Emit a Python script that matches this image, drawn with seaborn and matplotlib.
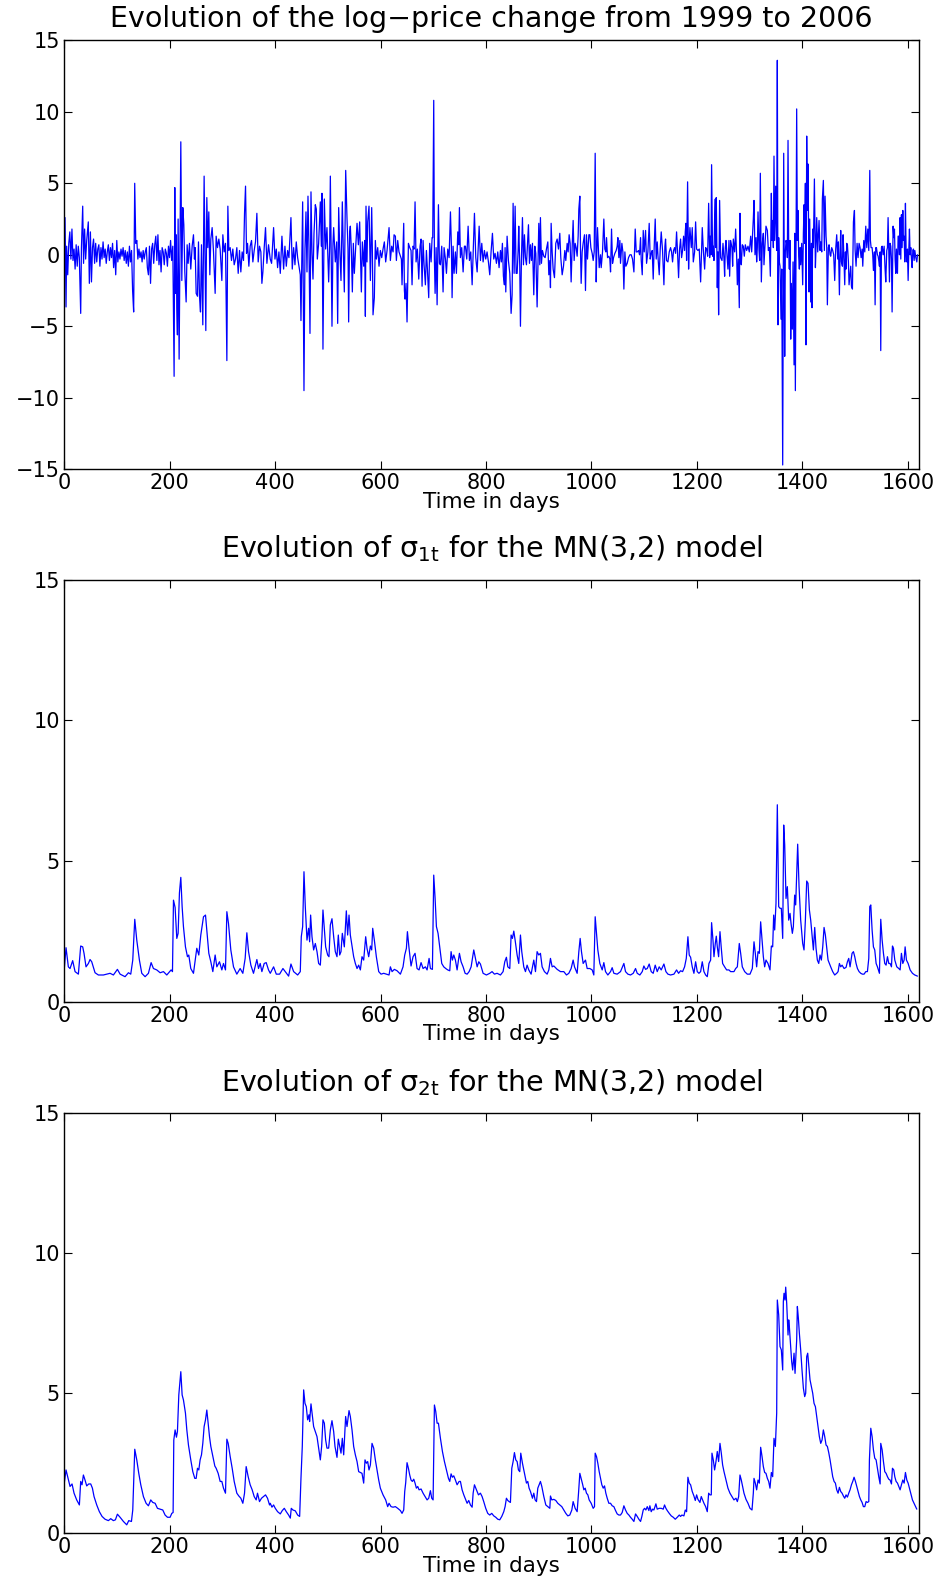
import matplotlib
matplotlib.use("Agg")
import matplotlib.pyplot as plt
import seaborn as sns
import pandas as pd

sns.set_style("ticks")
plt.rcParams['font.family'] = ['DejaVu Sans']
plt.rcParams['mathtext.default'] = 'regular'
plt.rcParams['text.color'] = 'black'
plt.rcParams['axes.labelcolor'] = 'black'
plt.rcParams['xtick.color'] = 'black'
plt.rcParams['ytick.color'] = 'black'

# ---- data: (day, value) ----
# daily log-price change
logret_pts = [
    (0, 0.5), (1.9, 2.6), (3.8, -3.65), (5, 0.6), (7, -1.4), (9, 0.8), (11, 1.6), (13, -0.3),
    (15, 1.8), (17, -0.4), (19, 0.4), (21, -1.0), (23, 0.7), (25, -0.8), (27, 0.6), (29, -0.2),
    (31.6, -4.1), (33, 0.5), (35.4, 3.4), (37, -0.6), (39, 1.8), (41, -0.3), (43, 1.0), (46, 2.3),
    (48, -2.0), (50, 1.6), (52, -1.9), (54, 0.5), (56, 1.1), (58, -0.6), (60, 0.8), (62, -0.5),
    (64, 0.4), (66, 0.7), (68, -0.8), (70, 0.5), (72, -0.3), (74, 0.9), (76, -0.2), (78, 0.4),
    (80, -0.6), (82, 0.2), (84, 0.7), (86, -0.4), (88, 0.5), (90, -0.2), (92, 0.8), (94, -0.9),
    (96, 0.3), (98, -1.4), (100, 1.0), (102, -0.5), (104, 0.2), (106, -0.3), (108, 0.4), (110, -0.1),
    (112, 0.5), (114, -0.4), (116, 0.3), (118, -0.6), (120, 0.2), (122, -0.8), (124, 0.6), (126, -0.5),
    (128, 0.3), (130, -2.5), (132, -4.0), (134, 5.0), (136, 0.8), (138, 1.0), (140, -0.3), (142, 0.4),
    (144, -0.2), (146, 0.2), (148, -0.5), (150, 0.3), (152, -0.3), (154, 0.2), (156, 0.5), (158, -0.9),
    (160, -1.4), (162, 0.6), (164, -2.0), (166, 0.4), (168, 0.8), (170, -0.6), (172, 0.7), (174, 1.3),
    (176, -0.4), (178, 1.4), (180, -0.7), (182, 0.3), (184, -1.2), (186, 0.5), (188, 0.2), (190, -0.7),
    (192, 0.4), (194, 0.1), (196, -0.8), (198, 0.6), (200, -0.2), (202, 1.0), (204, -0.4), (206.2, 0.6),
    (208.7, -8.5), (210, 4.7), (211.2, -2.7), (212.5, 1.4), (213.8, -3.7), (215, -5.6), (216.3, 2.5),
    (218.2, -7.3), (220.1, 1.8), (221.4, 7.9), (223.3, -1.8), (225.2, 3.3), (227.1, 2.1), (229, -1.2),
    (231.5, -3.3), (233.4, 0.7), (235.3, -0.6), (237.8, 0.8), (240.3, -1.0), (242.9, 0.6), (245.4, 1.4),
    (247.3, -0.3), (248.6, 0.5), (250.5, -2.7), (253, -2.9), (254.9, 0.9), (256.8, -2.9), (258.7, -4.0),
    (260.6, 0.7), (263.1, -4.9), (265.6, 5.5), (266.9, 1.0), (268.8, -5.3), (270.7, 4.0), (272.6, 0.5),
    (274.5, 3.0), (276.4, -1.4), (278.3, 1.1), (280.8, 1.9), (283.4, 0.2), (286.5, -2.7), (288.4, 1.3),
    (290.9, 0.5), (293.5, 1.1), (296, 0.4), (299.2, -1.8), (301.1, 1.4), (303.6, 0.2), (306.1, 0.8),
    (308.7, -7.4), (310.6, 3.4), (312.5, 0.3), (315, 0.5), (317.5, -0.4), (320, 0.4), (322.6, -0.7),
    (325.1, -0.3), (327.6, 0.5), (330.2, -1.3), (332.7, 0.3), (335.2, -1.2), (337.7, 0.2), (340.3, -0.4),
    (342.2, 2.9), (344.1, 4.8), (346, 0.1), (347.9, 0.8), (350.4, -0.8), (352.9, 0.6), (355.5, 1.0),
    (358, -0.5), (360.5, 0.3), (363, 0.9), (365.6, 2.9), (368.1, -0.5), (370.6, 0.6), (373.2, 0.2),
    (375.1, -2.0), (377, -1.2), (379.5, 0.5), (382, 1.9), (384.6, -0.6), (387.7, 0.7), (390.9, -0.3),
    (393.5, -0.6), (397.3, 1.9), (399.9, -0.3), (402.4, 0.4), (404.9, -0.9), (407.4, 0.2), (410, -1.3),
    (413.1, 1.3), (416.3, -1.0), (418.8, 0.6), (421.4, -0.8), (423.9, 0.3), (426.4, -0.2), (430.2, 2.6),
    (432.7, -1.0), (435.3, 0.5), (437.8, -0.7), (440.3, 0.9), (442.9, -0.2), (445.4, -0.8), (447.9, -1.4),
    (449.2, -4.6), (450.5, -1.0), (452.4, 3.7), (453.6, -2.5), (454.9, -9.5), (456.8, 0.4), (458.7, 3.0),
    (460.6, -1.2), (462.5, 4.1), (464.4, 0.5), (466.3, -5.5), (468.2, 4.4), (470.1, 0.2), (472, -1.7),
    (473.9, 1.5), (476.4, 3.5), (478.3, 3.2), (480.2, -0.3), (482.7, 0.8), (485.9, 3.7), (487.8, 0.6),
    (489, 4.3), (490.9, -6.6), (493.5, 3.9), (496, 0.4), (498.5, 1.9), (501.7, -1.9), (503.6, 0.6),
    (504.9, 5.5), (508, -5.0), (509.9, 0.8), (511.2, 1.9), (514.3, -0.5), (516.9, 0.9), (518.8, -4.8),
    (520.7, 3.3), (522.6, 0.5), (525.1, -1.8), (527.6, 3.7), (529.5, 0.2), (531.4, -2.6), (534, 5.9),
    (536.5, 2.5), (538.4, 0.4), (539.6, -4.7), (541.5, 1.6), (542.8, 2.0), (544.7, 0.3), (546.6, -2.6),
    (548.5, 0.8), (550.4, -1.3), (552.9, 0.5), (555.5, 2.2), (558, 0.7), (560.5, 2.3), (563.7, -2.6),
    (565.6, 0.9), (568.1, -0.8), (570, 1.0), (571.3, -4.3), (572.5, 3.4), (574.4, -0.5), (575.7, 2.3),
    (578.2, 3.4), (580.8, -1.8), (583.3, 3.3), (584.5, 0.5), (585.8, -4.2), (588.3, -3.0), (590.2, 1.0),
    (592.1, -0.3), (594.7, 0.5), (597.2, -0.8), (599.7, 0.3), (602.3, -0.2), (604.8, 0.4), (607.3, 0.9),
    (609.8, -0.5), (612.4, 0.3), (616.2, 1.9), (618.7, -0.4), (621.2, 0.6), (623.8, 0.2), (625.7, 1.4),
    (628.2, 1.3), (630.1, -0.4), (632.6, 1.0), (635.1, 0.2), (637.7, -0.1), (639.6, -0.3), (640.8, -2.1),
    (642.7, 0.5), (644, 2.2), (645.3, -2.5), (646.5, -3.1), (648.4, -2.0), (650.3, -4.7), (652.9, 0.8),
    (655.4, 0.5), (657.9, 0.3), (659.8, -2.1), (661.7, 0.6), (663.6, 0.4), (665.5, 3.7), (667.4, -0.5),
    (669.9, 0.4), (672.5, -1.7), (675, 0.6), (676.9, 1.1), (678.8, -2.2), (680.7, 1.0), (682.6, -0.7),
    (685.1, -2.1), (687, 0.3), (688.9, -1.0), (691.4, -3.0), (693.3, 0.8), (695.9, -0.5), (697.8, 1.2),
    (699, 1.2), (700.9, 10.8), (702.2, -0.3), (703.5, -2.7), (705.4, 0.5), (707.3, -3.5), (709.8, 3.5),
    (711.7, -0.6), (713.6, -0.7), (716.1, 0.6), (718.6, -2.6), (720.5, 0.5), (723.1, -0.3), (725, -1.3),
    (727.5, 0.4), (730, -0.2), (732.6, 3.0), (734.4, 0.6), (735.7, -3.0), (737.6, 0.6), (739.5, -1.3),
    (742, 0.2), (743.9, -1.3), (746.5, 1.6), (748.4, 0.7), (749.6, 3.3), (751.5, -0.2), (754, 0.5),
    (756.6, -1.2), (759.1, 0.6), (761, 0.6), (763.5, -0.3), (766.1, 2.0), (768.6, -0.4), (771.1, 0.2),
    (773.7, -2.1), (776.2, 0.8), (778.1, 2.9), (780.6, -0.2), (783.2, -1.2), (785, 0.3), (787, 2.0),
    (789.5, -0.4), (792, 0.8), (794.5, -0.5), (797, 0.3), (799.5, -0.3), (802, 0.2), (804.6, -0.5),
    (807.1, -1.4), (809.6, 0.2), (812.2, 1.5), (814.7, -0.3), (817.2, 0.1), (819.8, -0.6), (822.3, 0.2),
    (824.8, -0.9), (827.4, 0.3), (829.2, -0.5), (831.1, 0.8), (833, -1.5), (834.9, -2.1), (836.2, 0.5),
    (837.5, -2.6), (840, 1.3), (842.5, -0.4), (845.1, -1.3), (847.6, -4.1), (849.5, -2.8), (851.4, 3.6),
    (853.3, -1.3), (855.2, 3.4), (857.1, -1.3), (859, -1.3), (860.9, 0.3), (862.1, 2.0), (864, -0.8),
    (865.3, -5.0), (867.2, -0.3), (869.1, 2.6), (871, -0.7), (872.9, 1.4), (874.8, -0.2), (876.7, -0.7),
    (878.6, 0.7), (880.5, 2.1), (882.4, -0.6), (884.3, 0.7), (886.2, -0.4), (888.1, 0.8), (890.6, -2.8),
    (892.5, 0.6), (894.4, 0.1), (896.9, -3.65), (898.8, -0.3), (900.1, 2.2), (902, -0.7), (903.2, 2.6),
    (905.1, -0.6), (907, 0.3), (909.6, -0.1), (912.1, -0.2), (914.6, 0.4), (917.2, 0.9), (919.1, -1.4),
    (921, -0.4), (922.2, -2.3), (923.5, 2.2), (925.4, 0.2), (927.3, -1.0), (929.8, -1.6), (932.3, 0.8),
    (934.9, 1.1), (937.4, 0.4), (939.9, 1.5), (941.8, -0.2), (944.4, -1.4), (946.9, -0.8), (949.4, 0.3),
    (951.3, -0.4), (953.9, 0.8), (955.7, 0.2), (957.6, 1.4), (959.5, 0.8), (961.4, -1.9), (963.3, 0.5),
    (965.2, 2.4), (967.1, -0.4), (969, 0.8), (970.9, 0.5), (972.8, -0.1), (974.7, 1.3), (976, 3.2),
    (977.9, 4.1), (979.2, 0.3), (980.4, -2.0), (982.3, 0.2), (984.2, 0.8), (986.7, 1.4), (988.6, -2.5),
    (990.5, 1.4), (992.4, -0.3), (995, 1.4), (996.9, 1.4), (998.8, 0.5), (1001.3, 0.1), (1003.2, -0.4),
    (1005.1, 0.2), (1007, 7.1), (1008.9, -1.9), (1010.1, 0.2), (1011.4, 1.9), (1013.3, 0.3), (1014.6, -0.9),
    (1017.1, 0.0), (1018.4, -0.9), (1020.9, 0.2), (1023.4, 2.5), (1025.3, 0.4), (1027.2, 0.2), (1028.5, 1.2),
    (1030.4, -0.2), (1032.9, -0.1), (1034.8, -0.3), (1036.1, -1.2), (1038, 1.8), (1039.9, -0.6), (1041.8, -0.2),
    (1044.3, 0.1), (1046.8, 0.3), (1048.7, 0.6), (1050, 1.2), (1051.9, -0.2), (1053.8, 1.0), (1055, -0.6),
    (1057.6, 0.8), (1059.5, 0.2), (1061.4, -2.4), (1063.3, 0.2), (1065.2, -0.8), (1067.7, -0.6), (1070.2, -0.2),
    (1072.8, 0.0), (1075.3, 0.0), (1077.8, -0.3), (1080.4, -1.2), (1082.9, 1.8), (1084.8, 0.2), (1086.7, 0.2),
    (1089.2, 0.3), (1091.1, 0.0), (1093, 1.2), (1094.3, -0.4), (1096.2, -1.4), (1098.1, 1.7), (1100, 0.2),
    (1102.5, 1.7), (1104.4, -0.6), (1106.9, 0.2), (1109.4, 2.2), (1111.3, -0.3), (1113.2, 0.1), (1115.1, 0.3),
    (1117, -1.7), (1118.9, 0.6), (1120.8, 2.5), (1122.7, -0.3), (1124.6, 0.9), (1126.5, -0.4), (1128.4, -1.4),
    (1130.3, 0.4), (1132.2, 1.6), (1134.7, 0.3), (1137.3, -2.1), (1139.2, 0.6), (1140.4, 1.1), (1142.3, -0.4),
    (1144.9, -0.5), (1147.4, 0.2), (1149.9, 0.5), (1151.8, 0.2), (1153.7, -0.5), (1155.6, 0.3), (1157.5, 0.5),
    (1159.4, 0.1), (1161.3, 1.6), (1163.2, 0.1), (1165.1, -1.6), (1167, 0.4), (1168.9, 1.1), (1170.8, -0.2),
    (1172.7, 0.3), (1174.6, 1.3), (1176.5, 0.3), (1177.8, 1.6), (1179, 2.2), (1180.3, -0.4), (1182.2, 5.1),
    (1184.1, -1.0), (1185.3, 0.8), (1186.6, 1.9), (1189.2, 0.5), (1191, 1.9), (1193, -0.5), (1195.5, 0.2),
    (1197.4, 2.3), (1199.3, 0.4), (1201.8, 0.3), (1204.3, 0.4), (1206.9, -1.9), (1208.8, 0.5), (1210, 1.9),
    (1211.9, 0.4), (1214.5, -1.0), (1216.4, 0.5), (1218.3, 0.4), (1220.2, -0.1), (1222.1, 3.6), (1224, -0.2),
    (1225.2, 1.3), (1226.5, 0.0), (1227.7, 6.3), (1229.6, -0.1), (1230.9, 0.6), (1232.2, -0.4), (1233.4, 2.5),
    (1234.7, 3.9), (1236, 0.5), (1236.6, 4.0), (1237.9, -0.4), (1238.5, -2.3), (1239.8, 0.2), (1241, -4.2),
    (1242.9, 3.8), (1244.8, -0.2), (1247.4, -0.4), (1249.3, 0.8), (1251.2, -0.3), (1252.4, -1.5), (1253.7, 0.5),
    (1255, 1.0), (1257.5, -0.3), (1258.7, -1.0), (1260.6, 1.0), (1261.9, -1.5), (1263.8, 1.0), (1266.3, 0.5),
    (1267.6, -0.8), (1268.9, 1.1), (1271.4, 0.2), (1273.3, 1.8), (1275.2, -0.1), (1276.5, -2.1), (1278.3, -0.3),
    (1280.2, -3.7), (1281.5, 2.9), (1282.8, -0.3), (1284, -0.7), (1285.9, 0.7), (1287.8, 0.6), (1289.7, -0.1),
    (1291.6, 0.7), (1294.2, 0.3), (1296.7, 0.6), (1299.2, 0.2), (1301.8, 1.3), (1303.7, 0.2), (1305.5, 1.5),
    (1306.8, 2.5), (1308.1, 3.8), (1310, 0.0), (1311.9, 1.2), (1313.1, -0.5), (1314.4, 0.5), (1315.7, 3.0),
    (1317.6, 0.3), (1318.8, -0.4), (1320.1, 5.7), (1322, -1.9), (1323.9, 0.8), (1325.8, 1.5), (1327, -0.7),
    (1328.3, 0.2), (1330.8, 2.0), (1333.4, 1.7), (1335.3, 0.3), (1337.2, 0.5), (1339.1, -1.5), (1341, 4.3),
    (1342.2, 1.0), (1343.5, 2.4), (1344.8, 0.5), (1346, 6.9), (1347.3, 1.0), (1349.2, 4.8), (1351.1, 0.3),
    (1352.3, 13.6), (1353.6, -4.9), (1354.9, 1.2), (1356.1, -0.5), (1357.4, -0.8), (1359.3, -4.5), (1360.6, -1.0),
    (1362.5, -14.7), (1364.4, 7.1), (1366.3, -7.1), (1367.5, 0.2), (1368.8, 1.0), (1370.1, 0.8), (1371.3, -0.2),
    (1372.6, 8.0), (1373.9, 0.3), (1375.1, -1.0), (1376.4, 1.0), (1377.7, -5.9), (1378.9, -2.0), (1380.8, -5.2),
    (1382.1, -0.5), (1384, -7.7), (1385.2, 1.5), (1386.5, -9.5), (1387.8, 0.0), (1389, 10.2), (1390.3, 1.0),
    (1391.5, 3.1), (1392.8, -0.1), (1394.1, -1.0), (1395.4, 0.5), (1396.6, -0.7), (1398.5, 0.8), (1400.4, -2.1),
    (1401.7, 1.5), (1403, 3.5), (1404.2, 0.8), (1405.5, 5.0), (1406.7, -6.3), (1408, 8.3), (1409.3, 3.1),
    (1410.5, 6.35), (1411.8, 1.0), (1412.4, -2.6), (1413.7, 2.5), (1415.6, -3.3), (1416.9, 0.8), (1418.1, -3.7),
    (1419.4, 1.8), (1420.7, 0.5), (1422.6, 5.3), (1424.5, -0.9), (1425.7, 0.6), (1427, 2.6), (1428.9, 0.2),
    (1431.4, 2.4), (1433.3, 0.3), (1434.6, 0.9), (1436.5, 0.2), (1437.7, 3.9), (1439.6, 5.2), (1441.5, 0.3),
    (1442.8, 4.1), (1444.7, 1.3), (1446, 0.5), (1447.2, -3.5), (1449.1, 0.5), (1450.4, 0.7), (1452.3, 0.0),
    (1453.5, -0.1), (1455.4, 0.5), (1457.3, 0.3), (1459.2, 0.0), (1461.1, -1.8), (1463, 0.4), (1464.9, 1.4),
    (1466.8, -0.3), (1468.1, 0.9), (1470, -2.8), (1471.3, 0.0), (1472.5, 1.7), (1473.8, -0.5), (1475.7, -0.8),
    (1477, 1.4), (1478.2, 0.2), (1480.1, -2.1), (1481.4, 0.2), (1482.6, -1.0), (1483.9, 0.8), (1485.2, 0.7),
    (1487.1, -0.5), (1488.3, -2.1), (1490.2, -1.3), (1491.5, -0.8), (1492.8, -2.2), (1494.7, -2.4), (1496.6, 2.3),
    (1498.5, 3.1), (1499.7, 0.4), (1501.6, -0.8), (1503.5, 0.8), (1505.4, -0.2), (1507.3, 0.8), (1509.2, 0.5),
    (1511.1, -0.2), (1513, 0.4), (1514.3, -0.8), (1516.2, 1.0), (1518.1, 0.2), (1520, 2.0), (1521.9, 0.5),
    (1523.8, 1.8), (1525.7, 0.3), (1527.6, 5.9), (1528.8, 1.0), (1530.1, 0.5), (1532, 0.5), (1533.2, 0.0),
    (1534.5, -1.1), (1536.4, 0.2), (1537.7, -3.5), (1538.9, 0.5), (1540.2, 0.5), (1542.1, 0.0), (1543.4, -0.1),
    (1544.6, -0.4), (1545.9, -0.8), (1547.2, 0.2), (1548.4, -6.7), (1549.7, 0.5), (1551, 0.6), (1552.9, 0.0),
    (1554.8, 0.6), (1556.6, -1.0), (1557.9, -1.9), (1559.8, 0.3), (1561.1, 0.5), (1562.3, 2.6), (1563.6, 0.2),
    (1564.9, -1.9), (1566.1, 0.8), (1567.4, 0.6), (1568.7, -0.3), (1569.9, -4.0), (1571.8, 2.0), (1573.1, 1.2),
    (1574.4, 1.8), (1575.6, -0.3), (1576.9, -1.3), (1578.2, 0.4), (1580.1, -1.3), (1581.3, 1.3), (1582.6, 1.3),
    (1583.9, 0.0), (1585.1, 2.6), (1586.4, -0.3), (1587.6, 2.8), (1588.9, 0.5), (1590.2, 3.1), (1591.4, 1.0),
    (1592.7, 1.3), (1594, -0.5), (1595.2, 3.6), (1596.5, 0.2), (1597.8, -0.5), (1599, 0.4), (1600.3, -1.8),
    (1601.6, 0.3), (1602.8, 1.8), (1604.1, 0.0), (1605.4, 0.5), (1606.6, -0.3), (1607.9, -0.9), (1609.2, 0.3),
    (1610.4, 0.4), (1611.7, -0.4), (1613, 0.3), (1614.9, -0.2), (1616.8, -0.5), (1618, 0.0),
]

# sigma_1t of the MN(3,2) model
sigma1_pts = [
    (0, 1.07), (3.8, 1.92), (8.2, 1.24), (11.4, 1.18), (16.4, 1.46), (20.9, 1.07), (27.2, 0.98), (31.6, 1.98),
    (35.4, 1.95), (37.9, 1.72), (41.7, 1.24), (46.2, 1.36), (49.3, 1.50), (52.5, 1.42), (58.8, 1.03), (65.1, 0.95),
    (74.6, 0.95), (87.3, 1.01), (93.6, 0.95), (101.2, 1.15), (106.3, 0.98), (115.7, 0.89), (122.1, 1.03),
    (126.5, 0.98), (130.3, 1.48), (134.1, 2.93), (137.9, 2.19), (142.9, 1.48), (147.4, 1.01), (153.7, 0.89),
    (160, 1.01), (165.1, 1.39), (169.5, 1.18), (175.8, 1.13), (182.2, 1.03), (188.5, 1.07), (194.8, 0.95),
    (203, 1.13), (205.6, 1.07), (207.5, 3.61), (210.6, 3.35), (213.8, 2.25), (216.3, 2.43), (218.8, 3.87),
    (221.4, 4.42), (223.9, 3.38), (226.4, 2.67), (230.2, 1.95), (234, 1.60), (236.5, 1.66), (240.3, 1.18),
    (245.4, 1.01), (251.7, 1.90), (255.5, 1.66), (259.3, 2.37), (264.4, 3.02), (268.2, 3.08), (270.7, 2.55),
    (274.5, 1.72), (278.3, 1.42), (282.1, 1.07), (286.5, 1.66), (289.7, 1.24), (294.7, 1.42), (299.2, 1.13),
    (302.3, 1.36), (306.1, 1.13), (308.7, 3.20), (311.8, 2.78), (316.2, 1.84), (321.3, 1.24), (327.6, 0.98),
    (333.9, 1.18), (339, 1.01), (343.4, 1.54), (346.6, 2.45), (349.8, 1.78), (354.2, 1.30), (359.2, 1.01),
    (365.6, 1.50), (368.7, 1.18), (371.9, 1.36), (375.1, 1.07), (379.5, 1.36), (383.3, 1.39), (387.7, 1.13),
    (391, 1.01), (397.3, 1.24), (402.4, 0.98), (408.7, 0.98), (415, 1.18), (419.5, 1.07), (425.8, 0.91),
    (430.2, 1.34), (435.3, 1.07), (442.9, 0.95), (447.9, 1.07), (449.8, 2.31), (452.4, 2.67), (454.9, 4.62),
    (457.4, 3.38), (460.6, 2.19), (463.7, 2.61), (465.6, 2.13), (467.5, 3.08), (470.1, 2.31), (473.2, 1.84),
    (476.4, 2.07), (479.6, 1.78), (482.7, 1.36), (485.9, 1.30), (489, 2.31), (490.9, 3.26), (493.5, 2.61),
    (496, 1.95), (499.8, 1.66), (502.3, 1.60), (504.9, 2.73), (508, 2.95), (511.2, 2.31), (514.3, 1.78),
    (517.5, 1.60), (520, 2.37), (522.6, 1.66), (525.1, 1.78), (527.6, 2.43), (531.4, 1.95), (535.2, 3.23),
    (537.7, 2.37), (540.3, 3.08), (542.8, 2.37), (546, 1.98), (549.1, 1.60), (552.3, 1.36), (555.5, 1.18),
    (558.6, 1.30), (561.8, 1.13), (564.9, 1.60), (568.1, 1.48), (571.9, 2.31), (574.4, 1.90), (577.6, 1.60),
    (580.8, 1.98), (583.3, 1.84), (585.2, 2.61), (588.3, 2.19), (592.1, 1.60), (596.6, 1.07), (601, 0.98),
    (606.1, 1.01), (611.1, 0.98), (616.2, 0.95), (618.7, 1.24), (621.9, 1.07), (626.3, 1.15), (631.4, 1.10),
    (637.7, 0.98), (642.7, 1.24), (645.9, 1.66), (649.1, 1.90), (651, 2.49), (654.1, 1.90), (657.9, 1.27),
    (661.7, 1.60), (665.5, 1.72), (669.3, 1.18), (673.1, 1.13), (676.9, 1.39), (680.7, 1.18), (685.1, 1.24),
    (688.3, 1.13), (692.1, 1.54), (694.6, 1.18), (698.4, 1.15), (700.9, 4.50), (703.5, 3.67), (706, 2.67),
    (709.1, 2.43), (712.3, 1.95), (716.1, 1.36), (719.9, 1.24), (723.7, 1.18), (727.5, 1.13), (731.3, 1.10),
    (733.8, 1.78), (736.3, 1.48), (738.9, 1.66), (742, 1.48), (745.2, 1.13), (749.6, 1.72), (752.8, 1.42),
    (756.6, 1.24), (760.4, 1.01), (764.2, 0.98), (768, 1.07), (771.8, 1.24), (776.8, 1.84), (780, 1.54),
    (783.2, 1.24), (786.3, 1.42), (789.4, 1.34), (794.5, 1.01), (800.8, 0.95), (807.1, 1.01), (811.5, 1.07),
    (816, 0.98), (821, 1.01), (827.4, 0.95), (832.4, 1.07), (835.6, 1.42), (838.7, 1.58), (841.3, 1.24),
    (845.1, 1.18), (847.6, 2.37), (850.1, 2.25), (852.7, 2.51), (855.2, 2.19), (859, 1.66), (862.1, 1.36),
    (865.3, 2.37), (867.8, 1.78), (871.6, 1.24), (874.8, 1.07), (877.9, 1.30), (881.1, 1.13), (885.5, 0.98),
    (890.6, 1.48), (893.8, 1.07), (896.9, 1.78), (900.1, 1.66), (903.2, 1.72), (906.4, 1.24), (910.8, 1.07),
    (915.9, 0.98), (919.1, 1.13), (922.2, 1.54), (925.4, 1.24), (928.6, 1.27), (934.9, 1.15), (941.2, 1.07),
    (947.5, 1.07), (952.6, 0.95), (957, 1.01), (961.4, 1.18), (965.2, 1.48), (967.8, 1.24), (972.8, 1.01),
    (976, 1.78), (978.5, 2.25), (981, 1.78), (984.2, 1.36), (988.6, 1.48), (991.8, 1.18), (996.9, 1.18),
    (1001.3, 1.13), (1004.4, 0.95), (1007, 3.02), (1009.5, 2.43), (1012, 1.84), (1015.8, 1.36), (1020.3, 1.13),
    (1023.4, 1.39), (1026.6, 1.07), (1031, 0.95), (1036.1, 1.07), (1039.2, 1.21), (1042.4, 1.01), (1048.7, 0.98),
    (1055, 1.07), (1061.4, 1.36), (1064.5, 1.07), (1069, 0.98), (1074, 0.95), (1079.1, 1.01), (1083.5, 1.18),
    (1086.7, 1.01), (1091.7, 0.95), (1096.2, 1.07), (1099.3, 1.27), (1102.5, 1.15), (1105.7, 1.18), (1109.4, 1.34),
    (1113.2, 1.07), (1117, 1.01), (1120.8, 1.30), (1124.6, 1.07), (1128.4, 1.24), (1132.2, 1.13), (1137.3, 1.34),
    (1141.1, 1.07), (1144.9, 0.98), (1149.9, 0.95), (1156.3, 0.98), (1161.3, 1.13), (1165.1, 1.01), (1168.9, 1.10),
    (1172.7, 1.07), (1176.5, 1.24), (1179.7, 1.54), (1182.8, 2.31), (1185.3, 1.66), (1187.9, 1.58), (1191, 1.24),
    (1194.2, 1.01), (1197.4, 1.42), (1200.5, 1.07), (1203.7, 1.01), (1206.9, 1.07), (1210, 1.42), (1213.2, 1.07),
    (1216.4, 0.95), (1219.5, 0.89), (1222.7, 1.36), (1225.9, 1.48), (1227.7, 2.81), (1230.3, 2.19), (1232.2, 1.60),
    (1234.7, 2.07), (1236.6, 2.33), (1238.5, 1.95), (1241, 1.60), (1243.6, 2.49), (1246.1, 1.90), (1248.6, 1.36),
    (1252.4, 1.24), (1256.2, 1.13), (1260.6, 1.13), (1263.8, 1.07), (1270.1, 1.07), (1273.3, 1.18), (1276.5, 1.24),
    (1280.2, 2.07), (1282.8, 1.72), (1285.9, 1.24), (1290.4, 1.07), (1295.4, 0.98), (1300.5, 0.98), (1304.9, 1.18),
    (1308.1, 2.13), (1310.6, 1.72), (1313.1, 1.24), (1315.7, 1.78), (1318.2, 1.72), (1320.7, 2.84), (1323.3, 2.19),
    (1325.8, 1.60), (1328.3, 1.24), (1330.8, 1.48), (1334.6, 1.36), (1338.4, 1.13), (1341, 1.98), (1343.5, 1.95),
    (1345.4, 3.08), (1347.3, 2.55), (1349.8, 3.50), (1352.3, 7.0), (1354.9, 3.38), (1357.4, 3.32), (1359.9, 3.32),
    (1362.5, 2.25), (1364.4, 6.28), (1366.3, 5.57), (1368.8, 3.67), (1371.3, 4.09), (1373.9, 2.90), (1376.4, 3.14),
    (1378.3, 2.78), (1380.8, 2.43), (1382.7, 2.67), (1385.2, 3.79), (1387.1, 3.44), (1389, 4.50), (1390.9, 5.60),
    (1393.5, 4.09), (1396.6, 2.90), (1400.4, 2.07), (1402.9, 1.84), (1405.5, 2.90), (1408, 4.29), (1410.5, 4.21),
    (1413.1, 3.26), (1415.6, 2.90), (1418.1, 2.37), (1420.7, 1.84), (1423.2, 2.64), (1425.7, 1.90), (1428.2, 1.48),
    (1430.8, 1.36), (1433.3, 1.66), (1435.8, 1.48), (1438.4, 1.95), (1440.9, 2.64), (1443.4, 2.37), (1446, 1.90),
    (1448.5, 1.48), (1451, 1.36), (1453.5, 1.24), (1457.3, 1.07), (1461.1, 0.95), (1464.9, 1.01), (1467.5, 1.07),
    (1470, 1.36), (1472.5, 1.24), (1475.1, 1.30), (1478.9, 1.18), (1482.6, 1.22), (1485.2, 1.42), (1487.7, 1.54),
    (1490.2, 1.24), (1494, 1.72), (1496.6, 1.78), (1499.1, 1.60), (1501.6, 1.36), (1504.2, 1.18), (1507.3, 1.07),
    (1510.5, 1.01), (1513.6, 0.98), (1516.8, 0.98), (1520, 1.07), (1523.1, 1.07), (1525.7, 1.54), (1527.6, 3.38),
    (1529.5, 3.44), (1532, 2.55), (1534.5, 1.95), (1537, 1.84), (1539.6, 1.36), (1542.1, 1.24), (1545.9, 1.01),
    (1548.4, 2.93), (1551, 2.19), (1553.5, 1.72), (1556, 1.36), (1558.5, 1.30), (1561.1, 1.60), (1563.6, 1.36),
    (1566.1, 1.36), (1568.7, 1.24), (1570.6, 1.98), (1572.5, 1.90), (1575, 1.48), (1578.8, 1.24), (1582.6, 1.18),
    (1585.1, 1.13), (1587.6, 1.72), (1590.2, 1.36), (1592.7, 1.48), (1594.6, 1.95), (1597.1, 1.48), (1600.3, 1.36),
    (1604.1, 1.13), (1608.5, 1.01), (1612.9, 0.95), (1618, 0.91),
]

# sigma_2t of the MN(3,2) model
sigma2_pts = [
    (0, 1.73), (3.8, 2.26), (7.6, 1.96), (11.4, 1.67), (15.2, 1.76), (19, 1.43), (24, 1.19), (29.1, 1.01),
    (31.6, 1.85), (34.1, 1.73), (36.7, 2.08), (39.8, 1.90), (43, 1.69), (46.8, 1.76), (50.6, 1.76), (53.8, 1.61),
    (56.9, 1.31), (62, 1.01), (67, 0.77), (72.1, 0.60), (77.8, 0.50), (84.1, 0.45), (88.5, 0.52), (93.6, 0.45),
    (97.4, 0.48), (101.2, 0.68), (106.3, 0.57), (112.6, 0.42), (118.9, 0.30), (122.7, 0.45), (127.8, 0.42),
    (130.3, 0.83), (132.2, 1.90), (134.1, 3.00), (137.9, 2.62), (141.7, 2.14), (145.5, 1.73), (150.5, 1.31),
    (155.6, 1.07), (160, 0.98), (164.4, 1.19), (168.2, 1.10), (172.7, 1.07), (177.1, 0.89), (182.2, 0.86),
    (187.2, 0.83), (191.6, 0.65), (196.1, 0.57), (201.1, 0.57), (204.3, 0.71), (206.8, 0.74), (208.1, 3.33),
    (210.6, 3.69), (213.1, 3.43), (215, 3.63), (217.6, 4.94), (221.4, 5.77), (223.9, 4.94), (226.4, 4.76),
    (230.2, 4.29), (232.8, 3.69), (235.9, 3.15), (240.3, 2.62), (244.1, 2.20), (247.9, 1.96), (250.5, 1.96),
    (253, 2.32), (255.5, 2.26), (258, 2.62), (260.6, 2.80), (263.1, 3.21), (265.6, 3.81), (268.2, 4.05),
    (270.7, 4.40), (273.2, 3.93), (275.8, 3.45), (278.3, 3.10), (282.1, 2.74), (285.9, 2.40), (288.4, 2.32),
    (292.2, 2.14), (296, 1.85), (299.2, 1.85), (302.3, 1.61), (306.1, 1.43), (308.7, 3.36), (311.2, 3.21),
    (315, 2.74), (318.8, 2.32), (322.6, 1.85), (327.6, 1.43), (331.4, 1.33), (335.2, 1.25), (339, 1.07),
    (342.2, 1.43), (345.3, 2.38), (349.1, 2.02), (352.9, 1.73), (356.7, 1.55), (360.5, 1.31), (364.3, 1.19),
    (366.8, 1.43), (370.6, 1.13), (374.4, 1.25), (378.2, 1.31), (382, 1.37), (385.8, 1.25), (389.6, 1.01),
    (391, 1.07), (394.2, 0.93), (397.3, 1.01), (400.5, 0.89), (404.9, 0.77), (410, 0.69), (413.8, 0.81),
    (417.6, 0.89), (421.4, 0.77), (425.8, 0.65), (429, 0.54), (430.8, 0.89), (434, 0.83), (438.4, 0.80),
    (442.9, 0.65), (446.7, 0.60), (449.2, 1.96), (451.7, 3.10), (454.3, 5.12), (456.8, 4.64), (459.3, 4.52),
    (461.8, 4.05), (464.4, 4.23), (465.6, 3.99), (468.2, 4.62), (470.7, 4.23), (473.2, 3.81), (476.4, 3.63),
    (479.6, 3.45), (482.7, 3.04), (485.9, 2.62), (488.4, 3.10), (490.9, 4.05), (493.5, 3.93), (496, 3.33),
    (498.5, 3.04), (501.7, 3.04), (504.9, 3.69), (508, 4.02), (511.2, 3.63), (513.7, 3.10), (517.5, 2.71),
    (520, 3.36), (522.6, 3.10), (525.1, 2.86), (527.6, 3.39), (530.2, 2.80), (533.9, 4.17), (536.5, 3.81),
    (540.3, 4.38), (542.8, 4.17), (546, 3.69), (549.1, 3.10), (552.3, 2.80), (555.5, 2.56), (558.6, 2.20),
    (561.8, 2.17), (564.9, 2.14), (568.1, 1.79), (570.6, 2.62), (573.2, 2.50), (575.7, 2.56), (578.2, 2.26),
    (580.8, 2.44), (583.9, 3.21), (587.1, 3.04), (590.2, 2.62), (593.4, 2.26), (596.6, 1.90), (599.7, 1.61),
    (604.8, 1.37), (609.8, 1.19), (613.6, 0.95), (616.2, 1.07), (620, 0.95), (623.8, 0.93), (628.2, 0.95),
    (632.6, 0.89), (637.7, 0.81), (640.8, 0.71), (644, 0.83), (645.9, 1.49), (647.8, 1.81), (650.3, 2.52),
    (652.9, 2.32), (655.4, 2.08), (657.9, 1.90), (660.4, 1.85), (663, 1.93), (665.5, 1.79), (668, 1.61),
    (670.6, 1.67), (673.1, 1.55), (676.9, 1.58), (680.7, 1.43), (684.5, 1.31), (688.3, 1.19), (691.4, 1.25),
    (694.6, 1.52), (697.1, 1.25), (699.7, 1.19), (702.2, 4.58), (704.7, 4.35), (707.3, 3.93), (709.8, 3.93),
    (713.6, 3.39), (717.4, 2.92), (721.2, 2.56), (725, 2.26), (728.8, 1.96), (731.3, 1.85), (733.8, 2.12),
    (736.3, 2.00), (738.9, 2.05), (742, 1.90), (745.2, 1.73), (749, 1.85), (751.5, 1.85), (754.7, 1.55),
    (757.9, 1.37), (761.6, 1.19), (764.2, 1.07), (767.3, 1.17), (770.5, 1.01), (773.7, 0.93), (775.6, 1.43),
    (778.1, 1.73), (781.9, 1.55), (785.7, 1.37), (789.4, 1.43), (792.6, 1.31), (795.7, 1.13), (799.5, 0.89),
    (803.3, 0.71), (807.1, 0.65), (810.9, 0.71), (814.7, 0.62), (818.5, 0.57), (822.3, 0.50), (826.1, 0.48),
    (829.9, 0.60), (833.7, 0.77), (836.2, 0.95), (838.7, 1.25), (841.3, 1.17), (843.8, 1.13), (846.3, 1.10),
    (848.9, 2.32), (851.4, 2.56), (853.9, 2.88), (856.4, 2.62), (859, 2.56), (861.5, 2.26), (864, 2.20),
    (865.9, 2.86), (869.1, 2.50), (872.9, 2.14), (876.7, 1.79), (879.2, 1.85), (881.7, 1.61), (884.3, 1.49),
    (888.1, 1.25), (890.6, 1.43), (893.1, 1.19), (895.7, 1.13), (898.2, 1.61), (900.7, 1.73), (903.2, 1.85),
    (905.8, 1.67), (909.6, 1.31), (913.4, 1.01), (917.2, 0.95), (921, 0.89), (922.2, 1.33), (924.8, 1.19),
    (928.6, 1.21), (932.3, 1.17), (936.1, 1.07), (939.9, 1.01), (943.7, 0.95), (947.5, 0.83), (951.3, 0.71),
    (955.1, 0.62), (958.9, 0.65), (962.7, 0.83), (965.2, 1.13), (969, 0.89), (972.8, 0.77), (975.4, 1.43),
    (977.9, 2.14), (980.4, 1.96), (983, 1.76), (985.5, 1.55), (988, 1.61), (990.5, 1.43), (993.1, 1.37),
    (995.6, 1.19), (999.4, 1.07), (1003.2, 0.89), (1005.7, 0.95), (1007, 2.86), (1009.5, 2.74), (1012, 2.50),
    (1014.6, 2.20), (1017.1, 1.96), (1019.6, 1.73), (1022.2, 1.61), (1024.7, 1.69), (1027.2, 1.43), (1029.8, 1.25),
    (1032.9, 1.07), (1036.1, 1.07), (1039.2, 0.98), (1042.4, 0.95), (1045.6, 0.81), (1048.7, 0.69), (1051.9, 0.65),
    (1055, 0.65), (1058.2, 0.74), (1061.4, 0.98), (1064.5, 0.83), (1067.7, 0.71), (1070.9, 0.65), (1074, 0.57),
    (1077.2, 0.50), (1080.4, 0.42), (1083.5, 0.69), (1086.7, 0.60), (1089.8, 0.50), (1093, 0.42), (1095.5, 0.60),
    (1098.1, 0.83), (1100.6, 0.89), (1103.1, 0.83), (1105.7, 0.95), (1108.8, 0.81), (1110.7, 0.98), (1113.2, 0.77),
    (1115.8, 0.86), (1118.3, 0.83), (1122.1, 1.05), (1124.6, 0.86), (1128.4, 0.89), (1132.2, 0.89), (1136, 0.86),
    (1138.5, 1.01), (1141.1, 0.89), (1143.6, 0.81), (1147.4, 0.71), (1151.2, 0.62), (1155, 0.57), (1158.8, 0.50),
    (1162.6, 0.57), (1166.4, 0.65), (1168.9, 0.60), (1171.4, 0.65), (1175.2, 0.62), (1177.8, 0.83), (1180.3, 0.77),
    (1182.8, 2.00), (1185.3, 1.79), (1187.9, 1.73), (1191, 1.49), (1194.2, 1.33), (1196.8, 1.17), (1199.3, 1.37),
    (1201.8, 1.21), (1205.6, 1.10), (1208.1, 1.31), (1210.7, 1.19), (1213.2, 1.07), (1216.4, 0.95), (1219.5, 0.77),
    (1222.1, 1.43), (1224.6, 1.37), (1227.1, 1.37), (1228.4, 2.86), (1230.9, 2.62), (1233.4, 2.26), (1236, 2.56),
    (1238.5, 2.92), (1241, 2.56), (1243.6, 3.21), (1246.1, 2.86), (1248.6, 2.44), (1251.2, 2.20), (1255, 1.90),
    (1258.7, 1.61), (1262.5, 1.43), (1266.3, 1.31), (1270.1, 1.19), (1273.9, 1.25), (1276.5, 1.13), (1279, 1.31),
    (1281.5, 2.08), (1284, 1.90), (1286.6, 1.67), (1289.1, 1.43), (1292.9, 1.21), (1296.7, 1.07), (1300.5, 0.89),
    (1304.3, 0.83), (1306.8, 1.43), (1308.1, 1.96), (1310.6, 1.79), (1313.1, 1.55), (1315.7, 1.90), (1318.2, 1.79),
    (1320.7, 3.07), (1323.3, 2.74), (1325.8, 2.38), (1328.3, 2.17), (1330.8, 2.14), (1333.4, 1.96), (1335.9, 1.85),
    (1338.4, 1.61), (1341, 2.17), (1343.5, 2.02), (1346, 3.39), (1348.6, 3.10), (1351.1, 4.29), (1352.3, 8.33),
    (1354.9, 7.80), (1357.4, 6.67), (1359.9, 6.55), (1362.5, 5.83), (1363.7, 8.27), (1365, 8.57), (1366.9, 8.33),
    (1368.2, 8.79), (1370.1, 8.21), (1372.6, 7.08), (1373.9, 7.62), (1375.1, 7.38), (1377.7, 6.67), (1379.5, 6.13),
    (1381.4, 5.83), (1384, 6.43), (1385.9, 5.71), (1387.1, 6.19), (1389, 6.90), (1390.3, 8.10), (1392.2, 7.68),
    (1394.1, 7.14), (1396.6, 6.55), (1399.1, 5.83), (1401.7, 5.18), (1404.2, 4.88), (1406.1, 5.00), (1408, 6.31),
    (1409.9, 6.43), (1411.8, 6.01), (1414.3, 5.48), (1416.9, 5.24), (1419.4, 5.00), (1421.9, 4.64), (1424.5, 4.52),
    (1427, 4.17), (1429.5, 3.81), (1432, 3.45), (1434.6, 3.21), (1437.1, 3.33), (1439.6, 3.69), (1442.2, 3.45),
    (1444.7, 3.15), (1447.2, 3.10), (1449.8, 2.88), (1452.3, 2.62), (1454.8, 2.32), (1457.3, 2.02), (1459.9, 1.85),
    (1462.4, 1.79), (1464.9, 1.55), (1467.5, 1.43), (1470, 1.64), (1472.5, 1.49), (1475.1, 1.43), (1477.6, 1.33),
    (1480.1, 1.25), (1482.6, 1.37), (1485.2, 1.29), (1487.7, 1.43), (1490.2, 1.55), (1492.8, 1.73), (1495.3, 1.85),
    (1497.8, 2.00), (1500.4, 1.85), (1502.9, 1.67), (1505.4, 1.49), (1508, 1.31), (1510.5, 1.19), (1513, 1.10),
    (1515.5, 0.95), (1518.1, 0.95), (1520.6, 1.13), (1523.1, 1.10), (1525.7, 1.13), (1526.9, 2.62), (1529.5, 3.75),
    (1532, 3.45), (1534.5, 2.98), (1537, 2.68), (1539.6, 2.62), (1542.1, 2.32), (1544.6, 2.02), (1547.2, 1.76),
    (1548.4, 3.21), (1551, 2.98), (1553.5, 2.56), (1556, 2.20), (1558.5, 2.14), (1561.1, 2.02), (1563.6, 1.93),
    (1566.1, 1.90), (1568.7, 1.76), (1570.6, 2.32), (1573.1, 2.26), (1575, 2.02), (1577.5, 1.85), (1580.1, 1.79),
    (1582.6, 1.67), (1585.1, 1.55), (1587.6, 1.73), (1590.2, 1.90), (1592.7, 1.79), (1595.2, 2.17), (1597.8, 1.90),
    (1600.3, 1.79), (1602.8, 1.61), (1605.4, 1.43), (1608.5, 1.19), (1612.9, 1.01), (1616.7, 0.86),
]

titles = [
    "Evolution of the log\u2212price change from 1999 to 2006",
    r"Evolution of $\sigma_{1t}$ for the MN(3,2) model",
    r"Evolution of $\sigma_{2t}$ for the MN(3,2) model",
]
title_pads = [9.5, 16, 16]
ylims = [(-15, 15), (0, 15), (0, 15)]
yticks = [[-15, -10, -5, 0, 5, 10, 15], [0, 5, 10, 15], [0, 5, 10, 15]]
xticks = [0, 200, 400, 600, 800, 1000, 1200, 1400, 1600]
xlabel = "Time in days"

# axes boxes in figure fractions (left, bottom, width, height)
boxes = [
    (0.0679, 0.7030, 0.9067, 0.2715),
    (0.0679, 0.3660, 0.9067, 0.2671),
    (0.0679, 0.0296, 0.9067, 0.2658),
]

fig = plt.figure(figsize=(9.43, 15.8), dpi=100)

for pts, title, tpad, ylim, yt, box in zip([logret_pts, sigma1_pts, sigma2_pts], titles, title_pads,
                                           ylims, yticks, boxes):
    df = pd.DataFrame(pts, columns=["day", "value"])
    ax = fig.add_axes(box)
    sns.lineplot(data=df, x="day", y="value", ax=ax, color="#0000ff",
                 linewidth=0.9, estimator=None, sort=False)
    ax.set_xlim(0, 1621)
    ax.set_ylim(*ylim)
    ax.set_xticks(xticks)
    ax.set_yticks(yt)
    ax.tick_params(direction="in", top=True, right=True, length=6, width=0.8,
                   labelsize=15, pad=3)
    for sp in ax.spines.values():
        sp.set_visible(True)
        sp.set_linewidth(1.0)
        sp.set_color("black")
    ax.set_xlabel(xlabel, fontsize=15.5, labelpad=-1)
    ax.set_ylabel("")
    ax.set_title(title, fontsize=20.5, pad=tpad)

fig.savefig("out.png", dpi=100)
